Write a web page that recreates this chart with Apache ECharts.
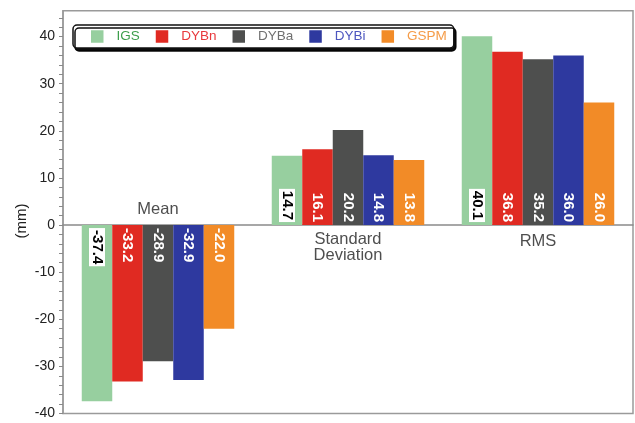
<!DOCTYPE html>
<html>
<head>
<meta charset="utf-8">
<script src="https://cdn.jsdelivr.net/npm/echarts@6/dist/echarts.min.js"></script>
<style>
  html, body { margin: 0; padding: 0; background: #fff; }
  #chart { width: 635px; height: 423px; }
</style>
</head>
<body>
<div id="chart"></div>
<script>
// Statistic groups along the x axis
const categories = ['Mean', 'Standard\nDeviation', 'RMS'];

// Solution names (legend order)
const seriesNames = ['IGS', 'DYBn', 'DYBa', 'DYBi', 'GSPM'];

// Values in mm for Mean, Standard Deviation, RMS
const igs  = [-37.4, 14.7, 40.1];
const dybn = [-33.2, 16.1, 36.8];
const dyba = [-28.9, 20.2, 35.2];
const dybi = [-32.9, 14.8, 36.0];
const gspm = [-22.0, 13.8, 26.0];

// Y-axis labelled ticks
const yTickLabels = [-40, -30, -20, -10, 0, 10, 20, 30, 40];

const seriesValues = [igs, dybn, dyba, dybi, gspm];
const barColors  = ['#97cf9f', '#e02a22', '#4e4f4e', '#2e399f', '#f28b27'];
const textColors = ['#3d9e4c', '#e8383c', '#707070', '#4d56bf', '#f59c48'];

// Vertical placement (in mm) of each group caption, next to the zero line
const captionLift = [3.3, -4.8, -3.4];

const FONT = '"Liberation Sans", Arial, Helvetica, sans-serif';

const chart = echarts.init(document.getElementById('chart'), null, { renderer: 'canvas' });

function barLabel(i, v) {
  const neg = v < 0;
  const isFirst = i === 0;
  return {
    show: true,
    position: neg ? 'insideTop' : 'insideBottom',
    distance: 3,
    rotate: -90,
    align: neg ? 'left' : 'right',
    verticalAlign: 'middle',
    formatter: () => v.toFixed(1),
    fontFamily: FONT,
    fontSize: 15,
    fontWeight: 'bold',
    color: isFirst ? '#000' : '#fff',
    backgroundColor: isFirst ? '#fff' : 'transparent',
    padding: isFirst ? [1, 2, 0, 2] : 0
  };
}

const series = seriesNames.map((name, i) => ({
  name,
  type: 'bar',
  barWidth: 30.5,
  barGap: '0%',
  itemStyle: { color: barColors[i] },
  data: seriesValues[i].map(v => ({ value: v, label: barLabel(i, v) })),
  emphasis: { disabled: true }
}));

// Group captions placed through the axes' own scales
series.push({
  name: 'captions',
  type: 'scatter',
  symbolSize: 0,
  silent: true,
  z: 5,
  data: categories.map((c, i) => ({ value: [i, captionLift[i]], name: c })),
  label: {
    show: true,
    position: 'inside',
    formatter: p => p.name,
    fontFamily: FONT,
    fontSize: 16.5,
    lineHeight: 16.5,
    color: '#222',
    align: 'center',
    verticalAlign: 'middle'
  },
  emphasis: { disabled: true },
  tooltip: { show: false }
});

const option = {
  animation: false,
  backgroundColor: '#fff',
  grid: {
    left: 63, right: 2, top: 10.7, bottom: 9.5,
    outerBoundsMode: 'none',
    containLabel: false,
    show: true,
    borderColor: '#9a9a9a',
    borderWidth: 1.5,
    backgroundColor: 'transparent'
  },
  legend: {
    left: 73,
    top: 25,
    orient: 'horizontal',
    icon: 'rect',
    itemWidth: 12.5,
    itemHeight: 12.5,
    itemGap: 16,
    padding: [4.5, 7, 4.5, 18],
    backgroundColor: '#fff',
    borderColor: '#111',
    borderWidth: 1.5,
    borderRadius: 4,
    shadowColor: 'rgba(0,0,0,0.95)',
    shadowOffsetX: 2,
    shadowOffsetY: 3,
    shadowBlur: 0,
    selectedMode: false,
    textStyle: { fontFamily: FONT, fontSize: 13.5, padding: [0, 0, 0, 8] },
    data: seriesNames.map((n, i) => ({ name: n, textStyle: { color: textColors[i] } }))
  },
  // Axis unit, set beside the y axis
  graphic: [{
    type: 'text',
    x: 22,
    y: 221,
    rotation: Math.PI / 2,
    silent: true,
    style: {
      text: '(mm)',
      fontFamily: FONT,
      fontSize: 15,
      fill: '#222',
      align: 'center',
      verticalAlign: 'middle'
    }
  }],
  xAxis: {
    type: 'category',
    data: categories,
    axisLine: { onZero: true, lineStyle: { color: '#8a8a8a', width: 1.5 } },
    axisTick: { show: false },
    axisLabel: { show: false },
    splitLine: { show: false }
  },
  yAxis: {
    type: 'value',
    min: -40,
    max: 45.5,
    interval: 2,
    axisLine: { show: true, lineStyle: { color: '#9a9a9a', width: 1.5 } },
    axisTick: { show: true, inside: false, length: 4, lineStyle: { color: '#8a8a8a', width: 1 } },
    axisLabel: {
      margin: 8,
      fontFamily: FONT,
      fontSize: 14,
      color: '#222',
      showMaxLabel: false,
      formatter: v => (yTickLabels.indexOf(v) >= 0 ? String(v) : '')
    },
    splitLine: { show: false }
  },
  series
};

chart.setOption(option);
</script>
</body>
</html>
